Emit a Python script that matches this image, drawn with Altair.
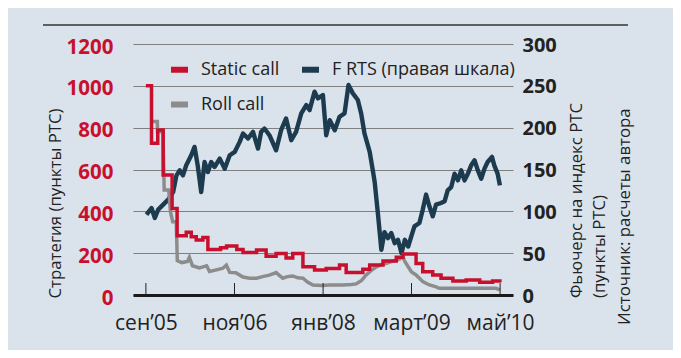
import altair as alt
import pandas as pd

# ---------------- data ----------------
frts_dates = ["2005-09-04","2005-09-28","2005-10-14","2005-10-30","2005-11-23","2005-12-17",
 "2006-01-10","2006-01-26","2006-02-11","2006-02-26","2006-03-14","2006-04-07","2006-04-23",
 "2006-05-08","2006-05-25","2006-06-10","2006-06-26","2006-07-12","2006-07-28","2006-08-22",
 "2006-09-15","2006-10-09","2006-11-02","2006-11-26","2006-12-12","2007-01-05","2007-01-29",
 "2007-02-22","2007-03-09","2007-03-25","2007-04-18","2007-05-20","2007-06-13","2007-07-07",
 "2007-08-01","2007-08-24","2007-09-18","2007-10-12","2007-10-28","2007-11-21","2007-12-07",
 "2007-12-31","2008-01-16","2008-02-02","2008-02-26","2008-03-20","2008-04-13","2008-05-02",
 "2008-05-23","2008-06-16","2008-07-02","2008-07-18","2008-08-12","2008-08-27","2008-09-05",
 "2008-09-21","2008-10-07","2008-10-22","2008-11-08","2008-11-24","2008-12-10","2008-12-26",
 "2009-01-12","2009-01-28","2009-02-13","2009-02-28","2009-03-15","2009-04-08","2009-04-24",
 "2009-05-10","2009-05-26","2009-06-11","2009-06-27","2009-07-21","2009-08-07","2009-08-22",
 "2009-09-08","2009-09-24","2009-10-10","2009-10-26","2009-11-11","2009-11-27","2009-12-13",
 "2009-12-29","2010-01-14","2010-01-30","2010-02-15","2010-03-02","2010-03-23","2010-04-03",
 "2010-04-19","2010-04-30"]
frts_values = [96,104,92,102,108,114,123,143,149,143,155,167,177,155,123,159,147,159,153,163,
 151,167,171,183,193,187,195,175,195,199,191,173,197,211,185,195,217,227,221,243,235,239,191,
 209,197,213,217,251,241,233,217,193,171,149,135,96,54,75,68,74,62,66,50,66,58,70,82,86,102,
 120,106,94,108,110,112,125,129,145,137,149,137,145,155,161,149,139,151,159,165,155,145,131]

static_dates = ["2005-09-01","2005-09-28","2005-10-28","2005-11-23","2006-01-05","2006-01-29",
 "2006-03-14","2006-04-07","2006-05-01","2006-06-02","2006-06-26","2006-08-26","2006-09-24",
 "2006-11-12","2006-12-12","2007-02-15","2007-04-02","2007-05-20","2007-07-07","2007-08-08",
 "2007-09-26","2007-11-21","2008-01-16","2008-03-20","2008-04-21","2008-07-10","2008-08-12",
 "2008-10-15","2008-12-18","2009-01-19","2009-03-23","2009-04-24","2009-06-11","2009-07-21",
 "2009-09-16","2009-11-19","2010-01-23","2010-03-26","2010-04-30"]
static_values = [1000,725,789,574,414,283,300,279,263,275,218,226,234,218,203,215,185,199,177,
 199,135,120,127,143,107,123,143,163,180,196,151,111,96,80,67,72,61,67,60]

roll_dates = ["2005-10-01","2005-10-26","2005-10-27","2005-11-22","2005-11-28","2005-12-20",
 "2005-12-28","2006-01-08","2006-01-25","2006-01-30","2006-02-21","2006-03-20","2006-03-29",
 "2006-04-13","2006-05-16","2006-06-20","2006-07-04","2006-08-06","2006-09-06","2006-09-23",
 "2006-10-09","2006-11-07","2006-12-12","2007-01-13","2007-02-15","2007-03-16","2007-04-18",
 "2007-05-20","2007-06-21","2007-07-13","2007-08-08","2007-09-01","2007-09-26","2007-10-18",
 "2007-11-13","2007-12-24","2008-02-02","2008-04-05","2008-05-16","2008-06-08","2008-07-04",
 "2008-07-26","2008-08-20","2008-09-13","2008-10-07","2008-10-31","2008-11-24","2008-12-18",
 "2009-01-04","2009-01-19","2009-01-28","2009-02-13","2009-03-01","2009-03-23","2009-04-08",
 "2009-04-24","2009-05-26","2009-06-24","2009-07-13","2009-11-03","2010-01-23","2010-04-11",
 "2010-04-30"]
roll_values = [830,830,781,781,502,502,398,350,350,165,155,160,180,140,130,140,112,120,128,143,
 108,106,86,80,80,88,95,107,80,88,91,82,80,62,48,46,48,48,50,53,70,96,118,135,145,151,160,167,
 172,183,160,135,110,96,80,64,48,40,32,32,32,32,24]

tick_dates = ["2005-09-01", "2006-11-01", "2008-01-01", "2009-03-01", "2010-05-01"]
left_ticks = [0, 200, 400, 600, 800, 1000, 1200]
right_ticks = [0, 50, 100, 150, 200, 250, 300]

# legend order (column-major, 2 columns): Static call / Roll call | F RTS
series_names = ["Static call", "Roll call", "F RTS (правая шкала)"]
series_colors = ["#c8102e", "#8c8c8c", "#1d3b4f"]

left_title = "Стратегия (пункты РТС)"
right_title_1 = "Фьючерс на индекс РТС"
right_title_2 = "(пункты РТС)"
source_text = "Источник: расчеты автора"

# ---------------- frames ----------------
frts_df = pd.DataFrame({"date": frts_dates, "value": frts_values, "series": series_names[2]})
static_df = pd.DataFrame({"date": static_dates, "value": static_values, "series": series_names[0]})
roll_df = pd.DataFrame({"date": roll_dates, "value": roll_values, "series": series_names[1]})
ticks_df = pd.DataFrame({"date": tick_dates})

W, H = 380, 251
FONT = "Open Sans"
BG = "#dae2eb"
INK = "#222222"
TITLE_SIZE = 16.8

xscale = alt.Scale(type="utc", nice=False,
                   domain=[alt.DateTime(year=2005, month=7, date=1, utc=True),
                           alt.DateTime(year=2010, month=7, date=2, utc=True)])

label_expr = ("(utcmonth(datum.value)==8?'сен':utcmonth(datum.value)==10?'ноя':"
              "utcmonth(datum.value)==0?'янв':utcmonth(datum.value)==2?'март':'май')"
              " + '\u2019' + utcFormat(datum.value, '%y')")

xaxis = alt.Axis(values=[alt.DateTime(year=int(d[:4]), month=int(d[5:7]), date=1, utc=True) for d in tick_dates],
                 labelExpr=label_expr, ticks=False, grid=False, domain=True,
                 domainColor="#1a1a1a", domainWidth=3, labelFontSize=21, labelFont=FONT,
                 labelColor=INK, labelPadding=17, title=None)
x_enc = alt.X("date:T", scale=xscale, axis=xaxis)

color_scale = alt.Scale(domain=series_names, range=series_colors)
legend = alt.Legend(orient="none", legendX=35, legendY=14, columns=2, title=None,
                    direction="vertical",
                    symbolType="stroke", symbolSize=289, symbolStrokeWidth=6,
                    labelFontSize=18, labelFont=FONT, labelColor=INK, labelLimit=400,
                    labelOffset=10, columnPadding=10, rowPadding=10, padding=0)
color_enc = alt.Color("series:N", scale=color_scale, legend=legend)

left_axis = alt.Axis(values=left_ticks, format="d", orient="left", grid=True,
                     gridColor="#7f7f7f", gridWidth=1.2, ticks=False, domain=False,
                     labelColor="#c8102e", labelFont=FONT, labelFontWeight="bold",
                     labelFontSize=20.5, labelPadding=20, labelOffset=3,
                     title=left_title, titleAngle=270, titleAlign="left",
                     titleBaseline="middle", titleX=-78, titleY=254, titleFont=FONT,
                     titleFontSize=TITLE_SIZE, titleFontWeight="normal", titleColor=INK)
right_axis = alt.Axis(values=right_ticks, format="d", orient="right", grid=False, ticks=False,
                      domain=False, labelColor=INK, labelFont=FONT,
                      labelFontWeight="bold", labelFontSize=20, labelPadding=9,
                      labelOffset=1, title=None)

roll = alt.Chart(roll_df).mark_line(strokeWidth=3.5).encode(
    x=x_enc,
    y=alt.Y("value:Q", scale=alt.Scale(domain=[0, 1200], nice=False), axis=left_axis),
    color=color_enc)
static = alt.Chart(static_df).mark_line(strokeWidth=3.5, interpolate="step-after").encode(
    x=x_enc,
    y=alt.Y("value:Q", scale=alt.Scale(domain=[0, 1200], nice=False), axis=left_axis),
    color=color_enc)
left_layer = alt.layer(roll, static)

frts = alt.Chart(frts_df).mark_line(strokeWidth=4.4, strokeJoin="round").encode(
    x=x_enc,
    y=alt.Y("value:Q", scale=alt.Scale(domain=[0, 300], nice=False), axis=right_axis),
    color=color_enc)

ticks = alt.Chart(ticks_df).mark_rule(color=INK, strokeWidth=1).encode(
    x=x_enc, y=alt.value(H - 12), y2=alt.value(H))

top_rule = alt.Chart(pd.DataFrame({"a": [0]})).mark_rule(color="#333333", strokeWidth=1.5).encode(
    x=alt.value(-90), x2=alt.value(495), y=alt.value(-19))


def side_text(txt, xpos, ypos):
    return alt.Chart(pd.DataFrame({"t": [txt]})).mark_text(
        angle=270, align="left", baseline="middle", fontSize=TITLE_SIZE, font=FONT, color=INK
    ).encode(text="t:N", x=alt.value(xpos), y=alt.value(ypos))


rt1 = side_text(right_title_1, 444, 254)
rt2 = side_text(right_title_2, 467, 254)
source = side_text(source_text, 492, 281)

chart = alt.layer(top_rule, frts, left_layer, ticks, rt1, rt2, source).resolve_scale(
    y="independent"
).properties(
    width=W, height=H, autosize="none",
    padding={"left": 125, "top": 36, "right": 160, "bottom": 55},
    background=BG
).configure_view(stroke=None)

chart.save("out.html", embed_options={"renderer": "svg", "actions": False})
